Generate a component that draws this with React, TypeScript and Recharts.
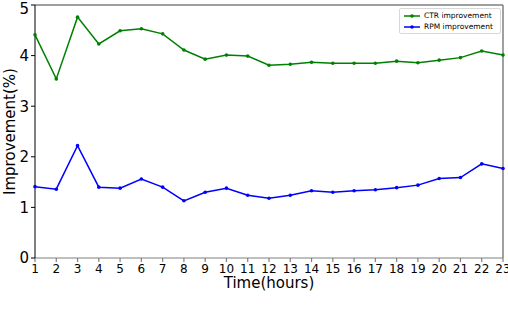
import React from 'react';
import { LineChart, Line, XAxis, YAxis, ReferenceLine } from 'recharts';

const hours = [1, 2, 3, 4, 5, 6, 7, 8, 9, 10, 11, 12, 13, 14, 15, 16, 17, 18, 19, 20, 21, 22, 23];
const ctrImprovement = [4.41, 3.54, 4.76, 4.23, 4.49, 4.53, 4.43, 4.11, 3.93, 4.01, 3.99, 3.81, 3.83, 3.87, 3.85, 3.85, 3.85, 3.89, 3.86, 3.91, 3.96, 4.09, 4.01];
const rpmImprovement = [1.41, 1.36, 2.22, 1.40, 1.38, 1.56, 1.40, 1.13, 1.30, 1.38, 1.24, 1.18, 1.24, 1.33, 1.30, 1.33, 1.35, 1.39, 1.44, 1.57, 1.59, 1.86, 1.77];
const yTicks = [0, 1, 2, 3, 4, 5];

const series = [
  { key: 'ctr', name: 'CTR improvement', color: '#008000' },
  { key: 'rpm', name: 'RPM improvement', color: '#0000ff' },
];

const data = hours.map((h, i) => ({ hour: h, ctr: ctrImprovement[i], rpm: rpmImprovement[i] }));

const font = '"DejaVu Sans", sans-serif';

const LegendBox = () => (
  <div
    style={{
      position: 'absolute',
      left: 399,
      top: 8,
      width: 96,
      border: '1px solid #d8d8d8',
      borderRadius: 2,
      background: '#fff',
      padding: '1px 0 1px 4px',
      fontFamily: font,
      fontSize: 7.5,
      lineHeight: '11px',
      color: '#000',
    }}
  >
    {series.map((it) => (
      <div key={it.key} style={{ display: 'flex', alignItems: 'center', whiteSpace: 'nowrap' }}>
        <svg width={16} height={6} style={{ marginRight: 4 }}>
          <line x1={0} y1={3} x2={16} y2={3} stroke={it.color} strokeWidth={1.5} />
          <circle cx={8} cy={3} r={1.8} fill={it.color} />
        </svg>
        {it.name}
      </div>
    ))}
  </div>
);

const YLabel = (props: any) => {
  const vb = props.viewBox || { x: 0, y: 0, width: 35, height: 253 };
  const cx = vb.x + 15;
  const cy = vb.y + vb.height / 2;
  return (
    <text
      x={cx}
      y={cy}
      transform={`rotate(-90 ${cx} ${cy})`}
      textAnchor="middle"
      fill="#000"
      fontSize={15}
      fontFamily={font}
    >
      Improvement(%)
    </text>
  );
};

const XLabel = (props: any) => {
  const vb = props.viewBox || { x: 35, y: 258, width: 468, height: 60 };
  return (
    <text
      x={vb.x + vb.width / 2}
      y={vb.y + 30}
      textAnchor="middle"
      fill="#000"
      fontSize={15}
      fontFamily={font}
    >
      Time(hours)
    </text>
  );
};

export default function App() {
  return (
    <div style={{ position: 'absolute', left: 0, top: 0, width: 508, height: 318, background: '#fff' }}>
      <LineChart width={508} height={318} data={data} margin={{ top: 5, right: 5, bottom: 0, left: 0 }}>
        <XAxis
          dataKey="hour"
          type="number"
          domain={[1, 23]}
          ticks={hours}
          interval={0}
          height={60}
          stroke="#808080"
          strokeWidth={1.2}
          tickSize={4}
          tick={{ fill: '#000', fontSize: 12, fontFamily: font }}
          label={<XLabel />}
        />
        <YAxis
          type="number"
          domain={[0, 5]}
          ticks={yTicks}
          width={35}
          stroke="#000"
          tickSize={4}
          tick={{ fill: '#000', fontSize: 15, fontFamily: font }}
          label={<YLabel />}
        />
        <ReferenceLine y={5} stroke="#404040" strokeWidth={1.2} />
        <ReferenceLine x={23} stroke="#808080" strokeWidth={1.5} />
        {series.map((s) => (
          <Line
            key={s.key}
            type="linear"
            dataKey={s.key}
            name={s.name}
            stroke={s.color}
            strokeWidth={1.5}
            dot={{ r: 1.8, fill: s.color, strokeWidth: 0 }}
            isAnimationActive={false}
          />
        ))}
      </LineChart>
      <LegendBox />
    </div>
  );
}
